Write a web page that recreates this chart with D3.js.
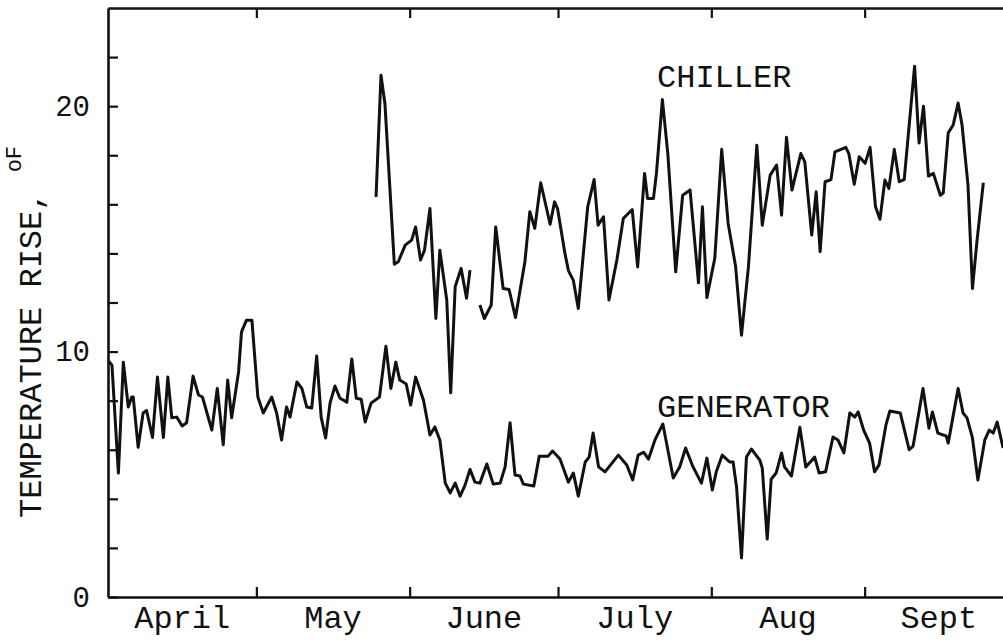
<!DOCTYPE html>
<html>
<head>
<meta charset="utf-8">
<script src="https://cdn.jsdelivr.net/npm/d3@7"></script>
<style>
  body { margin: 0; background: #fff; }
  svg { display: block; }
  .txt { font-family: "Courier New", "Nimbus Mono PS", "Liberation Mono", monospace; fill: #111; }
</style>
</head>
<body>
<div id="chart"></div>
<script>
// days counted from April 1 (day 0)
const monthStarts = [0, 30, 61, 91, 122, 153, 183];
const monthNames = ["April", "May", "June", "July", "Aug", "Sept"];
const yTicks = [0, 2, 4, 6, 8, 10, 12, 14, 16, 18, 20, 22];
const yLabels = [0, 10, 20];

// generator temperature rise
const genDay = [0.2, 0.8, 2.1, 3.1, 4.1, 4.8, 5.1, 6.1, 7.1, 7.8, 9.0, 10.0, 11.2, 12.1, 12.9, 13.9, 15.0, 15.9,
  17.2, 18.3, 19.1, 21.0, 22.1, 23.3, 24.2, 25.0, 26.4, 27.0, 28.0, 29.1, 30.3, 31.4, 33.1, 34.1, 35.1, 36.1,
  36.8, 38.2, 39.2, 40.2, 41.2, 42.2, 43.1, 44.0, 44.9, 45.9, 46.9, 48.3, 49.3, 50.2, 51.2, 52.0, 53.2, 54.9,
  56.2, 57.2, 58.2, 59.0, 60.3, 61.2, 62.2, 63.8, 65.1, 66.1, 67.1, 68.2, 69.2, 70.2, 71.2, 72.2, 73.2, 74.2,
  75.2, 76.6, 77.9, 79.3, 80.3, 81.3, 82.3, 83.3, 84.0, 86.1, 87.2, 89.0, 89.9, 91.4, 93.1, 94.1, 95.1, 96.5,
  97.3, 98.1, 99.2, 100.5, 103.2, 104.9, 106.1, 107.2, 108.3, 109.3, 110.6, 112.2, 114.3, 115.6, 116.8, 118.3,
  120.0, 121.1, 122.2, 123.0, 124.2, 125.7, 126.4, 127.1, 128.1, 129.1, 130.1, 131.8, 132.3, 133.3, 134.1,
  135.1, 136.2, 136.8, 138.2, 139.9, 141.1, 142.9, 143.8, 145.1, 146.6, 147.6, 148.8, 150.0, 151.0, 151.7,
  152.8, 154.0, 155.0, 155.9, 157.3, 158.1, 160.2, 162.0, 162.8, 164.8, 166.0, 166.7, 167.8, 169.5, 169.9,
  171.9, 172.9, 173.7, 174.8, 175.9, 177.3, 178.2, 179.0, 179.8, 181.0];
const genTemp = [9.6, 9.45, 5.05, 9.57, 7.74, 8.15, 8.15, 6.1, 7.5, 7.6, 6.5, 8.96, 6.5, 8.96, 7.3, 7.33, 6.97, 7.1,
  9.0, 8.23, 8.15, 6.8, 8.5, 6.2, 8.84, 7.3, 9.17, 10.8, 11.28, 11.28, 8.15, 7.5, 8.15, 7.5, 6.4, 7.74,
  7.33, 8.76, 8.5, 7.74, 7.7, 9.82, 7.33, 6.48, 7.9, 8.6, 8.1, 7.94, 9.7, 8.1, 8.06, 7.13, 7.9, 8.15,
  10.22, 8.5, 9.57, 8.84, 8.68, 7.82, 8.96, 8.02, 6.6, 6.93, 6.4, 4.64, 4.24, 4.64, 4.11, 4.56, 5.2, 4.68,
  4.64, 5.42, 4.6, 4.64, 5.3, 7.1, 4.97, 4.93, 4.6, 4.52, 5.74, 5.74, 5.95, 5.62, 4.68, 5.05, 4.11, 5.5,
  5.7, 6.68, 5.3, 5.1, 5.78, 5.38, 4.77, 5.78, 5.9, 5.62, 6.4, 7.05, 4.85, 5.3, 6.07, 5.3,
  4.64, 5.66, 4.36, 5.1, 5.78, 5.5, 5.5, 4.48, 1.59, 5.7, 6.03, 5.58, 5.25, 2.36, 4.8,
  5.05, 5.87, 5.3, 4.93, 6.92, 5.3, 5.7, 5.05, 5.1, 6.52, 6.4, 5.87, 7.5, 7.33, 7.54,
  6.8, 6.27, 5.1, 5.38, 7.0, 7.58, 7.5, 6.0, 6.15, 8.5, 6.88, 7.54, 6.68, 6.56, 6.27,
  8.5, 7.5, 7.3, 6.48, 4.77, 6.4, 6.8, 6.68, 7.13, 6.07];

// chiller temperature rise (null = gap in record)
const chillDay = [54.2, 55.2, 56.0, 57.9, 58.7, 60.1, 61.4, 62.2, 63.2, 64.0, 65.1, 66.3, 67.1, 68.5, 69.3, 70.2,
  71.4, 72.5, 73.2, 74.2, 75.2, 76.1, 77.5, 78.4, 79.9, 81.1, 82.4, 84.3, 85.3, 86.3, 87.5, 89.4, 90.3, 90.9,
  92.4, 93.1, 94.1, 95.1, 97.0, 98.3, 99.1, 100.2, 101.3, 102.9, 104.2, 106.0, 107.1, 108.5, 109.1, 110.3,
  110.9, 112.1, 113.2, 114.8, 116.2, 117.7, 119.4, 120.2, 121.1, 122.7, 124.1, 125.4, 126.9, 128.1, 129.5,
  131.2, 132.3, 133.9, 135.2, 136.2, 137.2, 138.3, 140.1, 140.9, 142.3, 143.2, 144.0, 145.0, 146.2, 147.0,
  149.2, 149.8, 150.9, 151.9, 153.1, 154.1, 155.2, 156.1, 157.1, 157.9, 159.0, 160.0, 161.0, 163.1, 164.0,
  164.9, 165.9, 166.9, 168.3, 168.9, 169.9, 170.9, 171.9, 172.7, 173.9, 174.8, 175.7, 177.0];
const chillTemp = [16.3, 21.26, 20.1, 13.56, 13.66, 14.34, 14.54, 15.08, 13.73, 14.13, 15.83, 11.35, 14.13, 12.1, 8.32, 12.64,
  13.39, 12.17, 13.32, null, 11.9, 11.35, 11.9, 15.08, 12.57, 12.53, 11.39, 13.66, 15.7, 15.02, 16.88, 15.19, 16.1, 15.83,
  14.0, 13.3, 12.9, 11.76, 15.9, 17.01, 15.15, 15.49, 12.1, 13.73, 15.42, 15.79, 13.45, 17.26, 16.24, 16.24,
  17.26, 20.27, 18.07, 13.25, 16.37, 16.58, 12.8, 15.9, 12.2, 13.8, 18.24, 15.22, 13.48, 10.67, 13.45,
  18.41, 15.15, 17.19, 17.6, 15.56, 18.73, 16.58, 18.07, 17.73, 14.75, 16.51, 14.07, 16.92, 17.01, 18.14,
  18.32, 18.07, 16.82, 17.94, 17.67, 18.32, 15.9, 15.39, 16.99, 16.65, 18.24, 16.92, 17.01, 21.63, 18.5,
  20.0, 17.15, 17.26, 16.37, 16.47, 18.91, 19.23, 20.13, 19.23, 16.78, 12.57, 14.47, 16.88];

const width = 1003, height = 641;
const margin = { left: 108, right: 1013, top: 8, bottom: 597 };

const svg = d3.select("#chart").append("svg")
  .attr("width", width)
  .attr("height", height);

const x = d3.scaleLinear().domain([0, 183]).range([margin.left, margin.right]);
const y = d3.scaleLinear().domain([0, 24]).range([margin.bottom, margin.top]);

function styleAxis(g) {
  g.select(".domain").attr("stroke", "#111").attr("stroke-width", 2.6);
  g.selectAll(".tick line").attr("stroke", "#111").attr("stroke-width", 2.2);
}

// frame + ticks (all inward)
const inner = monthStarts.slice(1, -1);
svg.append("g").attr("transform", `translate(0,${margin.bottom})`)
  .call(d3.axisBottom(x).tickValues(inner).tickSizeInner(-10).tickSizeOuter(0).tickFormat(""))
  .call(styleAxis);
svg.append("g").attr("transform", `translate(0,${margin.top})`)
  .call(d3.axisTop(x).tickValues(inner).tickSizeInner(-10).tickSizeOuter(0).tickFormat(""))
  .call(styleAxis);
svg.append("g").attr("transform", `translate(${margin.left},0)`)
  .call(d3.axisLeft(y).tickValues(yTicks).tickSizeInner(-10).tickSizeOuter(0).tickPadding(18)
    .tickFormat(d => yLabels.includes(d) ? d : ""))
  .call(styleAxis)
  .call(g => g.selectAll(".tick text").attr("class", "txt").attr("font-size", 29).attr("fill", "#111"));
svg.append("g").attr("transform", `translate(${margin.right},0)`)
  .call(d3.axisRight(y).tickValues(yTicks.slice(1)).tickSizeInner(-10).tickSizeOuter(0).tickFormat(""))
  .call(styleAxis);

// month names centred in each month
svg.append("g").selectAll("text")
  .data(monthNames)
  .join("text")
  .attr("class", "txt")
  .attr("font-size", 32)
  .attr("text-anchor", "middle")
  .attr("x", (d, i) => x((monthStarts[i] + monthStarts[i + 1]) / 2))
  .attr("y", 628)
  .text(d => d);

// y title
const yt = svg.append("text")
  .attr("class", "txt")
  .attr("font-size", 32)
  .attr("transform", "translate(41,518) rotate(-90)");
yt.append("tspan").text("TEMPERATURE RISE, ");
yt.append("tspan").attr("font-size", 22).attr("dy", -20).text("o");
yt.append("tspan").attr("font-size", 22).text("F");

// series
const line = d3.line()
  .defined(d => d.v != null)
  .x(d => x(d.day))
  .y(d => y(d.v));

const gen = genDay.map((d, i) => ({ day: d, v: genTemp[i] }));
const chill = chillDay.map((d, i) => ({ day: d, v: chillTemp[i] }));

[gen, chill].forEach(s => {
  svg.append("path")
    .datum(s)
    .attr("fill", "none")
    .attr("stroke", "#111")
    .attr("stroke-width", 3)
    .attr("stroke-linejoin", "round")
    .attr("d", line);
});

svg.append("text").attr("class", "txt").attr("font-size", 32)
  .attr("x", 657).attr("y", 87).text("CHILLER");
svg.append("text").attr("class", "txt").attr("font-size", 32)
  .attr("x", 657).attr("y", 417).text("GENERATOR");
</script>
</body>
</html>
